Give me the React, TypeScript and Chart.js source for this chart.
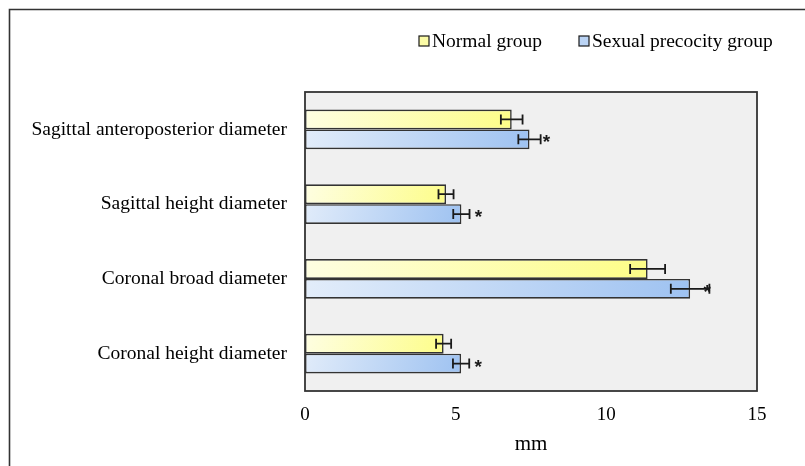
import React, { useEffect, useRef } from "react";
import { Chart, registerables } from "chart.js";

Chart.register(...registerables);

// Measurements (mm), mean ± SD
const categories = [
  "Sagittal anteroposterior diameter",
  "Sagittal height diameter",
  "Coronal broad diameter",
  "Coronal height diameter",
];
const seriesNames = ["Normal group", "Sexual precocity group"];
const normalMeans = [6.86, 4.68, 11.37, 4.6];
const normalSD = [0.36, 0.25, 0.58, 0.25];
const precocityMeans = [7.45, 5.19, 12.78, 5.18];
const precocitySD = [0.37, 0.27, 0.64, 0.27];
const precocityMarks = ["*", "*", "*", "*"];
const xTicks = [0, 5, 10, 15];

const SERIF = "'Liberation Serif', 'Times New Roman', serif";
const INK = "#1a1a1a";

const fills = [
  { light: "#fefee2", deep: "#fdfd86", swatch: "#fbfba6" },
  { light: "#e3edfa", deep: "#9ec2f1", swatch: "#bad3f4" },
];

function barGradient(ctx: any, datasetIndex: number) {
  const chart = ctx.chart;
  const xs = chart.scales?.x;
  const ys = chart.scales?.y;
  if (!chart.chartArea || !xs || !ys || ctx.dataIndex === undefined) {
    return fills[datasetIndex].deep;
  }
  const v = ctx.raw as number;
  const x0 = xs.getPixelForValue(0);
  const x1 = xs.getPixelForValue(v);
  const yc = ys.getPixelForValue(ctx.dataIndex);
  const g = chart.ctx.createLinearGradient(x0, yc - 20, x1, yc + 20);
  g.addColorStop(0, fills[datasetIndex].light);
  g.addColorStop(1, fills[datasetIndex].deep);
  return g;
}

const decorations = {
  id: "decorations",
  beforeDatasetsDraw(chart: any) {
    const { ctx, chartArea: a } = chart;
    ctx.save();
    ctx.fillStyle = "#f0f0f0";
    ctx.fillRect(a.left, a.top, a.right - a.left, a.bottom - a.top);
    ctx.restore();
  },
  afterDatasetsDraw(chart: any) {
    const { ctx, chartArea: a } = chart;
    const xs = chart.scales.x;
    const sds = [normalSD, precocitySD];

    // error bars
    ctx.save();
    ctx.strokeStyle = INK;
    ctx.lineWidth = 1.8;
    [0, 1].forEach((di) => {
      const meta = chart.getDatasetMeta(di);
      meta.data.forEach((bar: any, i: number) => {
        const v = chart.data.datasets[di].data[i] as number;
        const lo = xs.getPixelForValue(v - sds[di][i]);
        const hi = xs.getPixelForValue(v + sds[di][i]);
        const y = bar.y;
        ctx.beginPath();
        ctx.moveTo(lo, y);
        ctx.lineTo(hi, y);
        ctx.moveTo(lo, y - 5);
        ctx.lineTo(lo, y + 5);
        ctx.moveTo(hi, y - 5);
        ctx.lineTo(hi, y + 5);
        ctx.stroke();
      });
    });

    // significance marks
    const meta = chart.getDatasetMeta(1);
    ctx.fillStyle = INK;
    ctx.font = "bold 19px 'Liberation Sans', Arial, sans-serif";
    ctx.textAlign = "center";
    ctx.textBaseline = "alphabetic";
    meta.data.forEach((bar: any, i: number) => {
      if (!precocityMarks[i]) return;
      ctx.fillText(precocityMarks[i], bar.x + 17, bar.y + 9);
    });

    // plot frame
    ctx.strokeStyle = "#333333";
    ctx.lineWidth = 1.8;
    ctx.strokeRect(a.left, a.top, a.right - a.left, a.bottom - a.top);
    ctx.restore();
  },
  afterDraw(chart: any) {
    const { ctx } = chart;
    ctx.save();
    // outer frame
    ctx.strokeStyle = "#333333";
    ctx.lineWidth = 1.6;
    ctx.beginPath();
    ctx.moveTo(9.5, chart.height + 5);
    ctx.lineTo(9.5, 9.5);
    ctx.lineTo(chart.width + 5, 9.5);
    ctx.stroke();

    // legend
    const items = [
      { x: 419, label: seriesNames[0], fill: fills[0].swatch },
      { x: 579, label: seriesNames[1], fill: fills[1].swatch },
    ];
    ctx.font = `19.5px ${SERIF}`;
    ctx.textBaseline = "middle";
    ctx.textAlign = "left";
    items.forEach((it) => {
      ctx.fillStyle = it.fill;
      ctx.fillRect(it.x, 36, 10, 10);
      ctx.strokeStyle = INK;
      ctx.lineWidth = 1.2;
      ctx.strokeRect(it.x, 36, 10, 10);
      ctx.fillStyle = "#000";
      ctx.fillText(it.label, it.x + 13, 42);
    });
    ctx.restore();
  },
};

export default function App() {
  const ref = useRef<HTMLCanvasElement | null>(null);

  useEffect(() => {
    if (!ref.current) return;
    const chart = new Chart(ref.current, {
      type: "bar",
      data: {
        labels: categories,
        datasets: [
          {
            label: seriesNames[0],
            data: normalMeans,
            backgroundColor: (c: any) => barGradient(c, 0),
            borderColor: "#333333",
            borderWidth: 1.6,
            borderSkipped: false,
          },
          {
            label: seriesNames[1],
            data: precocityMeans,
            backgroundColor: (c: any) => barGradient(c, 1),
            borderColor: "#333333",
            borderWidth: 1.6,
            borderSkipped: false,
          },
        ],
      },
      options: {
        indexAxis: "y",
        responsive: false,
        animation: false,
        devicePixelRatio: 1,
        layout: { padding: { top: 92, right: 48, left: 0, bottom: 0 } },
        datasets: {
          bar: { categoryPercentage: 0.53, barPercentage: 1 },
        },
        plugins: {
          legend: { display: false },
          tooltip: { enabled: false },
        },
        scales: {
          x: {
            min: 0,
            max: 15,
            afterFit: (s: any) => {
              s.height = 75;
            },
            afterBuildTicks: (s: any) => {
              s.ticks = xTicks.map((v) => ({ value: v }));
            },
            grid: { display: false, drawTicks: false, tickLength: 0 },
            border: { display: false },
            ticks: {
              color: "#000",
              padding: 13,
              maxRotation: 0,
              font: { family: SERIF, size: 19 },
            },
            title: {
              display: true,
              text: "mm",
              color: "#000",
              font: { family: SERIF, size: 21 },
              padding: { top: 0, bottom: 9 },
            },
          },
          y: {
            afterFit: (s: any) => {
              s.width = 305;
            },
            grid: { display: false, drawTicks: false, tickLength: 0 },
            border: { display: false },
            ticks: {
              color: "#000",
              padding: 18,
              font: { family: SERIF, size: 19.5 },
            },
          },
        },
      },
      plugins: [decorations],
    });
    return () => chart.destroy();
  }, []);

  return (
    <div style={{ position: "absolute", left: 0, top: 0, width: 805, height: 466, background: "#fff" }}>
      <canvas ref={ref} width={805} height={466} />
    </div>
  );
}
